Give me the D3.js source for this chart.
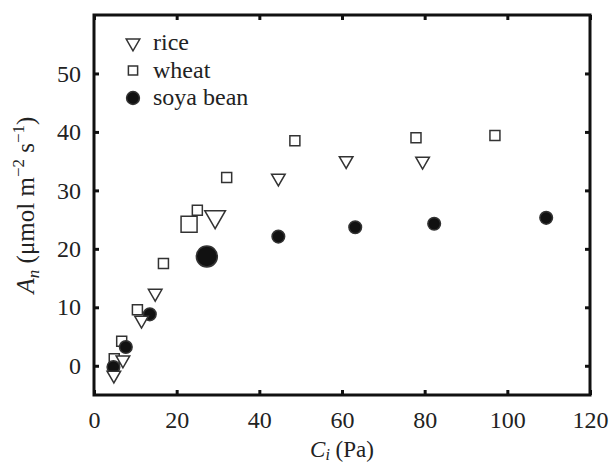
<!DOCTYPE html>
<html>
<head>
<meta charset="utf-8">
<script src="https://cdn.jsdelivr.net/npm/d3@7"></script>
<style>
  body { margin: 0; background: #fff; }
</style>
</head>
<body>
<div id="container"></div>
<script>
// data: Ci (Pa) vs An (umol m-2 s-1)
var riceCi = [4.8, 7.0, 11.5, 14.8, 29.3, 44.6, 61.0, 79.5];
var riceAn = [-1.6, 1.0, 7.8, 12.4, 25.5, 32.1, 35.1, 35.0];
var riceBig = [4];

var wheatCi = [4.9, 6.7, 10.5, 16.8, 23.0, 25.0, 32.1, 48.6, 77.9, 97.0];
var wheatAn = [1.2, 4.2, 9.6, 17.5, 24.2, 26.6, 32.2, 38.5, 39.0, 39.4];
var wheatBig = [4];

var soyaCi = [4.7, 7.7, 13.5, 27.3, 44.6, 63.2, 82.3, 109.4];
var soyaAn = [-0.2, 3.2, 8.8, 18.7, 22.1, 23.7, 24.3, 25.3];
var soyaBig = [3];

var xTicks = [0, 20, 40, 60, 80, 100, 120];
var yTicks = [0, 10, 20, 30, 40, 50];

var width = 610, height = 466;
var margin = {left: 94, right: 20, top: 15, bottom: 71};
var serif = "Liberation Serif";

var svg = d3.select("#container").append("svg")
    .attr("width", width)
    .attr("height", height);

var x = d3.scaleLinear().domain([0, 120]).range([margin.left, width - margin.right]);
var y = d3.scaleLinear().domain([-5, 60]).range([height - margin.bottom, margin.top]);

function pts(cx, an, big) {
    return cx.map(function(c, i) {
        return {x: c, y: an[i], big: big.indexOf(i) >= 0};
    });
}

var series = [
    {name: "wheat", data: pts(wheatCi, wheatAn, wheatBig), type: d3.symbolSquare, small: 100, large: 256, fill: "none", rot: 0},
    {name: "soya bean", data: pts(soyaCi, soyaAn, soyaBig), type: d3.symbolCircle, small: 125, large: 345, fill: "#111", rot: 0},
    {name: "rice", data: pts(riceCi, riceAn, riceBig), type: d3.symbolTriangle, small: 80, large: 185, fill: "#fff", rot: 180}
];

// axes: ticks point inward
function tidy(g) {
    g.attr("font-family", serif).attr("font-size", 24);
    g.select(".domain").remove();
    g.selectAll(".tick line").attr("stroke", "#111").attr("stroke-width", 3);
    g.selectAll(".tick text").attr("fill", "#222").attr("font-family", serif);
}

svg.append("g")
    .attr("transform", "translate(0," + y(-5) + ")")
    .call(d3.axisBottom(x).tickValues(xTicks).tickSize(-5).tickPadding(16))
    .call(tidy);

svg.append("g")
    .attr("transform", "translate(0," + y(60) + ")")
    .call(d3.axisTop(x).tickValues(xTicks).tickSize(-5).tickFormat(""))
    .call(tidy);

svg.append("g")
    .attr("transform", "translate(" + x(0) + ",0)")
    .call(d3.axisLeft(y).tickValues(yTicks).tickSize(-5).tickPadding(13))
    .call(tidy);

svg.append("g")
    .attr("transform", "translate(" + x(120) + ",0)")
    .call(d3.axisRight(y).tickValues(yTicks).tickSize(-5).tickFormat(""))
    .call(tidy);

svg.append("rect")
    .attr("x", x(0))
    .attr("y", y(60))
    .attr("width", x(120) - x(0))
    .attr("height", y(-5) - y(60))
    .attr("fill", "none")
    .attr("stroke", "#111")
    .attr("stroke-width", 3);

// markers
series.forEach(function(s) {
    svg.append("g").selectAll("path")
        .data(s.data)
        .enter().append("path")
        .attr("d", function(d) { return d3.symbol().type(s.type).size(d.big ? s.large : s.small)(); })
        .attr("transform", function(d) { return "translate(" + x(d.x) + "," + y(d.y) + ") rotate(" + s.rot + ")"; })
        .attr("fill", s.fill)
        .attr("stroke", "#333")
        .attr("stroke-width", 1.5);
});

// legend
var legend = [series[2], series[0], series[1]];
var lg = svg.append("g").attr("transform", "translate(133,43)");
legend.forEach(function(s, i) {
    var row = lg.append("g").attr("transform", "translate(0," + (i * 27.5) + ")");
    row.append("path")
        .attr("d", d3.symbol().type(s.type).size(s.type === d3.symbolCircle ? 130 : s.type === d3.symbolSquare ? 85 : 80)())
        .attr("transform", "rotate(" + s.rot + ")")
        .attr("fill", s.fill)
        .attr("stroke", "#333")
        .attr("stroke-width", 1.5);
    row.append("text")
        .attr("x", 20)
        .attr("y", 7)
        .attr("font-family", serif)
        .attr("font-size", 24)
        .attr("fill", "#222")
        .text(s.name);
});

// axis titles
var xt = svg.append("text")
    .attr("x", (x(0) + x(120)) / 2)
    .attr("y", 457)
    .attr("text-anchor", "middle")
    .attr("font-family", serif)
    .attr("fill", "#222")
    .attr("font-size", 23);
xt.append("tspan").attr("font-style", "italic").text("C");
xt.append("tspan").attr("font-style", "italic").attr("font-size", 16).attr("dy", 3).text("i");
xt.append("tspan").attr("dy", -3).text(" (Pa)");

var yt = svg.append("text")
    .attr("transform", "translate(34," + ((y(-5) + y(60)) / 2) + ") rotate(-90)")
    .attr("text-anchor", "middle")
    .attr("font-family", serif)
    .attr("fill", "#222")
    .attr("font-size", 25);
yt.append("tspan").attr("font-style", "italic").text("A");
yt.append("tspan").attr("font-style", "italic").attr("font-size", 17).attr("dy", 5).text("n");
yt.append("tspan").attr("dy", -5).text(" (μmol m");
yt.append("tspan").attr("font-size", 17).attr("dy", -10).text("−2");
yt.append("tspan").attr("dy", 10).text(" s");
yt.append("tspan").attr("font-size", 17).attr("dy", -10).text("−1");
yt.append("tspan").attr("dy", 10).text(")");
</script>
</body>
</html>
